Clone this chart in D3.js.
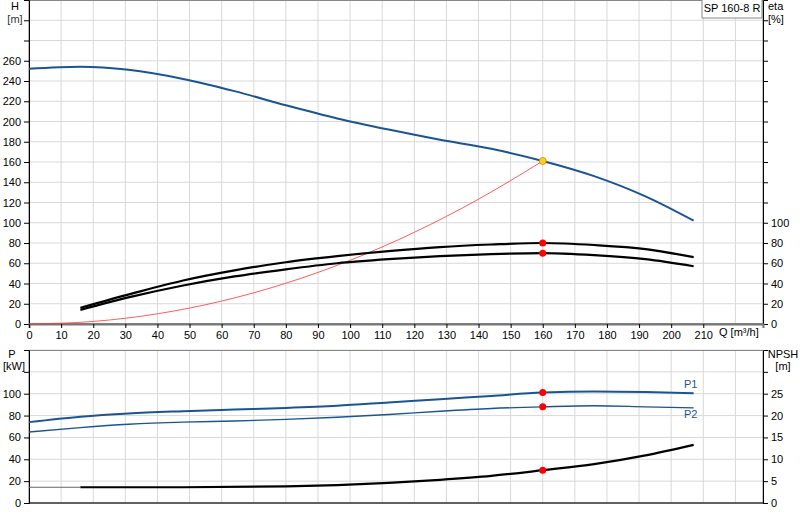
<!DOCTYPE html><html><head><script src="https://cdn.jsdelivr.net/npm/d3@7"></script>
<style>body{margin:0;background:#fff}text{font-family:Arial,"Liberation Sans",sans-serif;font-size:11px}</style></head><body>
<svg id="c" width="800" height="520"></svg>
<script>
const qH=[0,16,31,48,64,80,96,112,128,144,160,176,192,207];
const H=[252,254,251,242,230,216,203,192,182,173,161,146,126,102];
const qE=[16,32,48,64,80,96,112,128,144,160,176,192,207];
const eta1=[16,30,43,53,61,67,72,76,78.5,80,78,74,66];
const eta2=[14,27,38,47,54,60,64,67,69,70,68,64,57];
const qSys=[0,20,40,60,80,100,120,140,160];
const P1=[74,79,82,84,85.5,87,89,92,95,98,101,102,101.5,100.5];
const P2=[65,69,72,74,75,76.5,78.5,81,84,86.5,88,89,88,87];
const qN=[16,48,80,96,112,128,144,160,176,192,207];
const NPSH=[3.6,3.6,3.8,4.1,4.6,5.3,6.2,7.5,8.9,10.9,13.3];
const qTicks=d3.range(0,211,10);
const hTicks=d3.range(0,261,20), eTicks=d3.range(0,101,20), pTicks=d3.range(0,101,20), nTicks=d3.range(0,26,5);
const duty=160, dutyH=161;

const svg=d3.select("#c");
const x=d3.scaleLinear().domain([0,228.6]).range([29,763]);
const y=d3.scaleLinear().domain([0,320]).range([324,0]);
const yp=d3.scaleLinear().domain([0,140]).range([503,350]);
const yn=d3.scaleLinear().domain([0,35]).range([503,350]);
const grid="#d9d9d9", blue="#1a5494";
// grids
const g=svg.append("g");
qTicks.concat([220]).forEach(q=>{g.append("line").attr("x1",x(q)).attr("x2",x(q)).attr("y1",0).attr("y2",324).attr("stroke",grid);
 g.append("line").attr("x1",x(q)).attr("x2",x(q)).attr("y1",350).attr("y2",503).attr("stroke",grid);});
d3.range(20,321,20).forEach(v=>g.append("line").attr("x1",29).attr("x2",763).attr("y1",y(v)).attr("y2",y(v)).attr("stroke",grid));
d3.range(20,141,20).forEach(v=>g.append("line").attr("x1",29).attr("x2",763).attr("y1",yp(v)).attr("y2",yp(v)).attr("stroke",grid));
svg.append("rect").attr("x",29).attr("y",0.5).attr("width",734).attr("height",323).attr("fill","none").attr("stroke","#888");
svg.append("rect").attr("x",29).attr("y",350.5).attr("width",734).attr("height",152.5).attr("fill","none").attr("stroke","#888");
// axes
const ax=(s,o)=>svg.append("g").call(s).call(a=>{a.selectAll("text").attr("fill","#000").style("font-size","11px");a.select(".domain").attr("stroke","#000")});
ax(d3.axisLeft(y).tickValues(hTicks.concat([280,300])).tickSize(5).tickFormat(d=>d>260?"":d)).attr("transform","translate(29,0)");
ax(d3.axisRight(y).tickValues(eTicks.concat([120,140,160,180,200,220,240,260,280,300])).tickSize(5).tickFormat(d=>d>100?"":d)).attr("transform","translate(763,0)");
ax(d3.axisBottom(x).tickValues(qTicks).tickSize(4)).attr("transform","translate(0,324)").select(".domain").attr("stroke","#777").attr("stroke-width",2);
ax(d3.axisLeft(yp).tickValues(pTicks.concat([120])).tickSize(5).tickFormat(d=>d>100?"":d)).attr("transform","translate(29,0)");
ax(d3.axisRight(yn).tickValues(nTicks.concat([30])).tickSize(5).tickFormat(d=>d>25?"":d)).attr("transform","translate(763,0)");
svg.append("line").attr("x1",29).attr("x2",763).attr("y1",503).attr("y2",503).attr("stroke","#000");
const t=(s,xx,yy,a,c)=>svg.append("text").attr("x",xx).attr("y",yy).attr("text-anchor",a||"start").attr("fill",c||"#000").text(s);
t("H",15,10,"middle");t("[m]",15,23,"middle","#333");
t("eta",768,10);t("[%]",768,23);
t("Q [m³/h]",719,336);
t("P",12,358,"middle");t("[kW]",14,370,"middle");
t("NPSH",783,358,"middle");t("[m]",783,370,"middle");
svg.append("rect").attr("x",702).attr("y",-1).attr("width",60).attr("height",19).attr("fill","#fff").attr("stroke","#888");
t("SP 160-8 R",732,12,"middle");
// curves
const ln=(xs,ys,sx,sy,col,w)=>svg.append("path").attr("d",d3.line().curve(d3.curveMonotoneX).x((d,i)=>sx(xs[i])).y(d=>sy(d))(ys)).attr("fill","none").attr("stroke",col).attr("stroke-width",w);
svg.append("path").attr("d",d3.line().curve(d3.curveMonotoneX).x(q=>x(q)).y(q=>y(dutyH*(q/duty)**2))(qSys)).attr("fill","none").attr("stroke","#f33").attr("stroke-width",0.8);
ln(qH,H,x,y,blue,2);
ln(qE,eta1,x,y,"#000",2.2);ln(qE,eta2,x,y,"#000",2.2);
ln(qH,P1,x,yp,blue,2);ln(qH,P2,x,yp,blue,1.4);
svg.append("line").attr("x1",x(0)).attr("x2",x(16)).attr("y1",yn(3.6)).attr("y2",yn(3.6)).attr("stroke","#666");
ln(qN,NPSH,x,yn,"#000",2.2);
t("P1",x(207)-3,yp(101)-5,"middle",blue);t("P2",x(207)-3,yp(87)+10,"middle",blue);
const dot=(cy,f)=>svg.append("circle").attr("cx",x(duty)).attr("cy",cy).attr("r",3.5).attr("fill",f).attr("stroke",f==="red"?"none":"#c80").attr("stroke-width",0.8);
dot(y(80),"red");dot(y(70),"red");dot(yp(101),"red");dot(yp(88),"red");dot(yn(7.5),"red");dot(y(dutyH),"#ffd21f");
</script></body></html>
